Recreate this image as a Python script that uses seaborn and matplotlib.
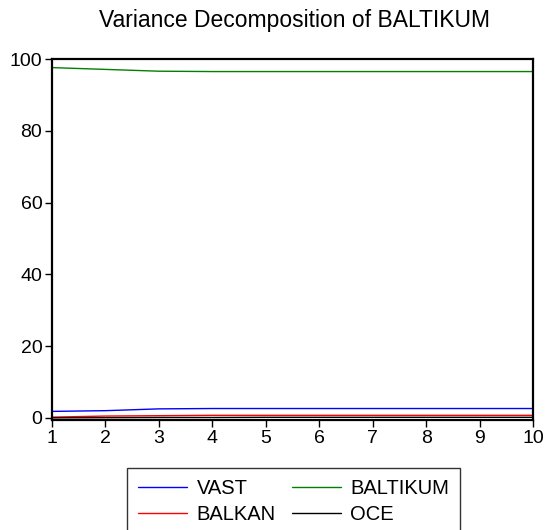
import numpy as np
import pandas as pd
import matplotlib
matplotlib.use("Agg")
import matplotlib.pyplot as plt
import seaborn as sns
from matplotlib.lines import Line2D

periods = [1, 2, 3, 4, 5, 6, 7, 8, 9, 10]
vast = [1.8, 2.0, 2.5, 2.6, 2.6, 2.6, 2.6, 2.6, 2.6, 2.6]
baltikum = [97.6, 97.1, 96.6, 96.5, 96.5, 96.5, 96.5, 96.5, 96.5, 96.5]
balkan = [0.2, 0.5, 0.6, 0.7, 0.7, 0.7, 0.7, 0.7, 0.7, 0.7]
oce = [0.0, 0.05, 0.1, 0.1, 0.15, 0.15, 0.15, 0.15, 0.15, 0.15]

names = ["VAST", "BALTIKUM", "BALKAN", "OCE"]
colors = {"VAST": "#0000ff", "BALTIKUM": "#008000", "BALKAN": "#ff0000", "OCE": "#000000"}

df = pd.DataFrame({"period": periods, "VAST": vast, "BALTIKUM": baltikum,
                   "BALKAN": balkan, "OCE": oce})
long = df.melt(id_vars="period", var_name="series", value_name="value")

sns.set_style("white")
plt.rcParams["font.family"] = ["Liberation Sans", "DejaVu Sans"]
plt.rcParams["text.color"] = "black"

fig = plt.figure(figsize=(5.45, 5.3), dpi=100)
ax = fig.add_axes([52/545, 1-420/530, (533-52)/545, (420-59)/530])

sns.lineplot(data=long, x="period", y="value", hue="series", hue_order=names,
             palette=colors, ax=ax, linewidth=1.0, legend=False)

ax.set_xlim(1, 10)
ax.set_ylim(-0.6, 100)
ax.set_xticks(periods)
ax.set_yticks([0, 20, 40, 60, 80, 100])
ax.set_xlabel("")
ax.set_ylabel("")
for s in ax.spines.values():
    s.set_color("black")
    s.set_linewidth(1.6)
ax.tick_params(axis="both", which="both", direction="out", length=5, width=1,
               color="black", labelsize=14, labelcolor="black", pad=2)
ax.tick_params(bottom=True, left=True, top=False, right=False)

fig.text(294.5/545, 1-21/530, "Variance Decomposition of BALTIKUM", ha="center",
         va="center", fontsize=16.5, color="black")

# column-major order so rows read VAST, BALTIKUM / BALKAN, OCE
order = ["VAST", "BALKAN", "BALTIKUM", "OCE"]
handles = [Line2D([], [], color=colors[n], lw=1.0) for n in order]
leg = fig.legend(handles, order, ncol=2, loc="lower center",
                 bbox_to_anchor=(293.5/545, -5/530), frameon=True, fancybox=False,
                 fontsize=14.5, handlelength=2.45, columnspacing=0.8,
                 borderpad=0.55, labelspacing=0.32, handletextpad=0.45,
                 borderaxespad=0.0, labelcolor="black")
leg.get_frame().set_edgecolor("black")
leg.get_frame().set_linewidth(1.0)

fig.savefig("out.png", dpi=100)
